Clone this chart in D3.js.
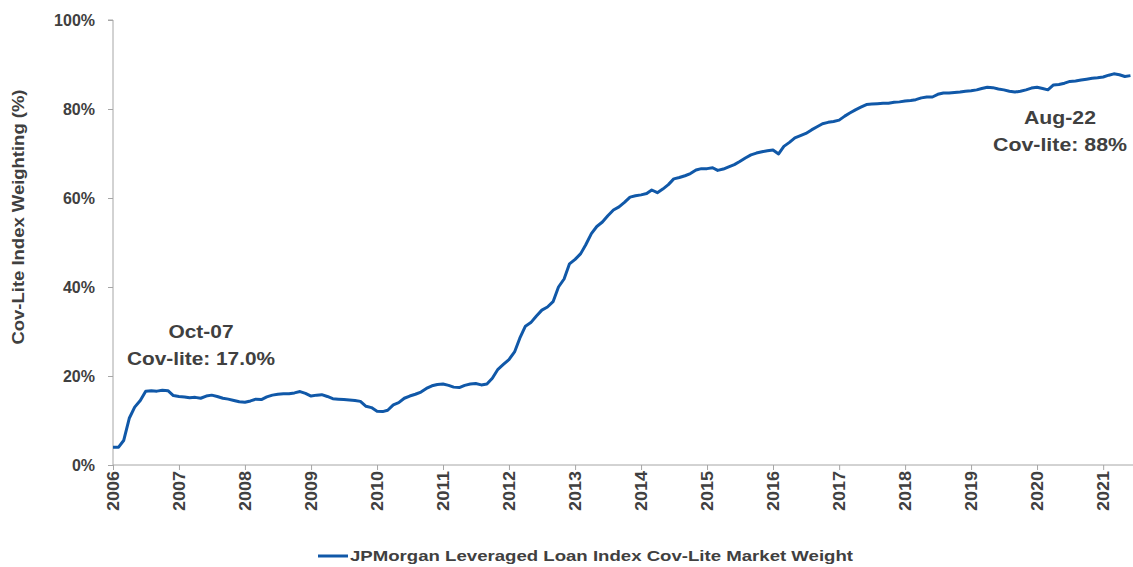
<!DOCTYPE html>
<html>
<head>
<meta charset="utf-8">
<script src="https://cdn.jsdelivr.net/npm/d3@7"></script>
<style>
	body { margin: 0; background: #ffffff; }
	text { font-family: "Liberation Sans", Arial, sans-serif; font-weight: bold; fill: #404040; }
</style>
</head>
<body>
<svg id="chart" width="1133" height="567"></svg>
<script>
// monthly cov-lite share (%), Jan..Dec of each year
var v2006 = [4.0, 4.0, 5.5, 10.5, 13.0, 14.5, 16.6, 16.7, 16.6, 16.8, 16.7, 15.6];
var v2007 = [15.4, 15.3, 15.1, 15.2, 15.0, 15.5, 15.7, 15.4, 15.0, 14.8, 14.5, 14.2];
var v2008 = [14.1, 14.4, 14.8, 14.7, 15.3, 15.7, 15.9, 16.0, 16.0, 16.2, 16.5, 16.1];
var v2009 = [15.5, 15.7, 15.8, 15.4, 14.9, 14.8, 14.7, 14.6, 14.5, 14.3, 13.2, 12.9];
var v2010 = [12.1, 12.0, 12.3, 13.5, 14.0, 15.0, 15.5, 15.9, 16.4, 17.2, 17.8, 18.1];
var v2011 = [18.2, 17.9, 17.5, 17.4, 17.9, 18.2, 18.3, 18.0, 18.2, 19.5, 21.5, 22.6];
var v2012 = [23.7, 25.4, 28.5, 31.2, 32.0, 33.5, 34.8, 35.5, 36.7, 40.0, 41.8, 45.2];
var v2013 = [46.2, 47.5, 49.5, 52.0, 53.6, 54.6, 56.0, 57.3, 58.0, 59.0, 60.2, 60.5];
var v2014 = [60.7, 61.0, 61.8, 61.2, 62.0, 63.0, 64.3, 64.6, 65.0, 65.5, 66.3, 66.6];
var v2015 = [66.6, 66.8, 66.2, 66.5, 67.0, 67.5, 68.2, 69.0, 69.7, 70.1, 70.4, 70.6];
var v2016 = [70.8, 69.9, 71.6, 72.5, 73.5, 74.0, 74.5, 75.3, 76.0, 76.7, 77.0, 77.2];
var v2017 = [77.5, 78.4, 79.1, 79.8, 80.4, 81.0, 81.1, 81.2, 81.3, 81.3, 81.5, 81.6];
var v2018 = [81.8, 81.9, 82.1, 82.5, 82.7, 82.7, 83.3, 83.6, 83.6, 83.7, 83.8, 84.0];
var v2019 = [84.1, 84.3, 84.6, 84.9, 84.8, 84.5, 84.3, 84.0, 83.8, 84.0, 84.3, 84.7];
var v2020 = [84.9, 84.6, 84.3, 85.4, 85.5, 85.8, 86.2, 86.3, 86.5, 86.7, 86.9, 87.0];
var v2021 = [87.2, 87.6, 87.9, 87.7, 87.3, 87.5];

var seriesYears = [2006, 2007, 2008, 2009, 2010, 2011, 2012, 2013, 2014, 2015, 2016, 2017, 2018, 2019, 2020, 2021];
var seriesByYear = [v2006, v2007, v2008, v2009, v2010, v2011, v2012, v2013, v2014, v2015, v2016, v2017, v2018, v2019, v2020, v2021];

var yearTicks = [2006, 2007, 2008, 2009, 2010, 2011, 2012, 2013, 2014, 2015, 2016, 2017, 2018, 2019, 2020, 2021];
var pctTicks = [0, 20, 40, 60, 80, 100];

var yTitle = "Cov-Lite Index Weighting (%)";
var legendLabel = "JPMorgan Leveraged Loan Index Cov-Lite Market Weight";
var noteStart = ["Oct-07", "Cov-lite: 17.0%"];
var noteEnd = ["Aug-22", "Cov-lite: 88%"];

var lineColor = "#1058a8";
var axisColor = "#a6a6a6";

var data = [];
seriesByYear.forEach(function(vals, i){
	vals.forEach(function(v, m){
		data.push({date: new Date(seriesYears[i], m, 1), value: v});
	});
});

var svg = d3.select("#chart");
svg.append("rect").attr("width", 1133).attr("height", 567).attr("fill", "#ffffff");

var x = d3.scaleTime()
	.domain([new Date(2006, 0, 1), new Date(2021, 5, 15)])
	.range([113, 1133]);
var y = d3.scaleLinear()
	.domain([0, 100])
	.range([465, 20]);

//Y axis
var yAxis = svg.append("g")
	.attr("transform", "translate(113,0)")
	.call(d3.axisLeft(y).tickValues(pctTicks).tickSize(5).tickPadding(13).tickFormat(function(d){ return d + "%"; }));
yAxis.select(".domain").attr("stroke", axisColor).attr("d", "M0," + y(0) + "V" + y(100) + "H-5");
yAxis.selectAll(".tick line").attr("stroke", axisColor);
yAxis.selectAll(".tick text")
	.attr("font-size", 16)
	.attr("dy", "0.36em")
	.style("fill", "#404040");

//X axis
var xAxis = svg.append("g")
	.attr("transform", "translate(0," + y(0) + ")")
	.call(d3.axisBottom(x)
		.tickValues(yearTicks.map(function(d){ return new Date(d, 0, 1); }))
		.tickSize(5)
		.tickFormat(d3.timeFormat("%Y")));
xAxis.select(".domain").attr("stroke", axisColor).attr("d", "M113,0H1133");
xAxis.selectAll(".tick line").attr("stroke", axisColor);
xAxis.selectAll(".tick text")
	.attr("font-size", 16)
	.attr("transform", "rotate(-90)")
	.attr("text-anchor", "end")
	.attr("x", -6)
	.attr("y", 0)
	.attr("dy", "0.36em")
	.attr("textLength", 40)
	.attr("lengthAdjust", "spacingAndGlyphs")
	.style("fill", "#404040");
svg.selectAll(".tick text").attr("font-family", null);
svg.selectAll("g").attr("font-family", null);

//Y title
svg.append("text")
	.attr("transform", "translate(24,217) rotate(-90)")
	.attr("text-anchor", "middle")
	.attr("font-size", 16)
	.attr("textLength", 255)
	.attr("lengthAdjust", "spacingAndGlyphs")
	.text(yTitle);

//Line
var line = d3.line()
	.x(function(d){ return x(d.date); })
	.y(function(d){ return y(d.value); });
svg.append("path")
	.datum(data)
	.attr("fill", "none")
	.attr("stroke", lineColor)
	.attr("stroke-width", 3)
	.attr("stroke-linejoin", "round")
	.attr("d", line);

//Annotations
function note(lines, cx, base, widths){
	lines.forEach(function(t, i){
		svg.append("text")
			.attr("x", cx)
			.attr("y", base + i * 27)
			.attr("text-anchor", "middle")
			.attr("font-size", 18)
			.attr("textLength", widths[i])
			.attr("lengthAdjust", "spacingAndGlyphs")
			.text(t);
	});
}
note(noteStart, 201, 338, [65, 148]);
note(noteEnd, 1060, 124, [72, 134]);

//Legend
svg.append("line")
	.attr("x1", 318).attr("x2", 348)
	.attr("y1", 556).attr("y2", 556)
	.attr("stroke", lineColor)
	.attr("stroke-width", 3);
svg.append("text")
	.attr("x", 350)
	.attr("y", 561)
	.attr("font-size", 15)
	.attr("textLength", 503)
	.attr("lengthAdjust", "spacingAndGlyphs")
	.text(legendLabel);
</script>
</body>
</html>
